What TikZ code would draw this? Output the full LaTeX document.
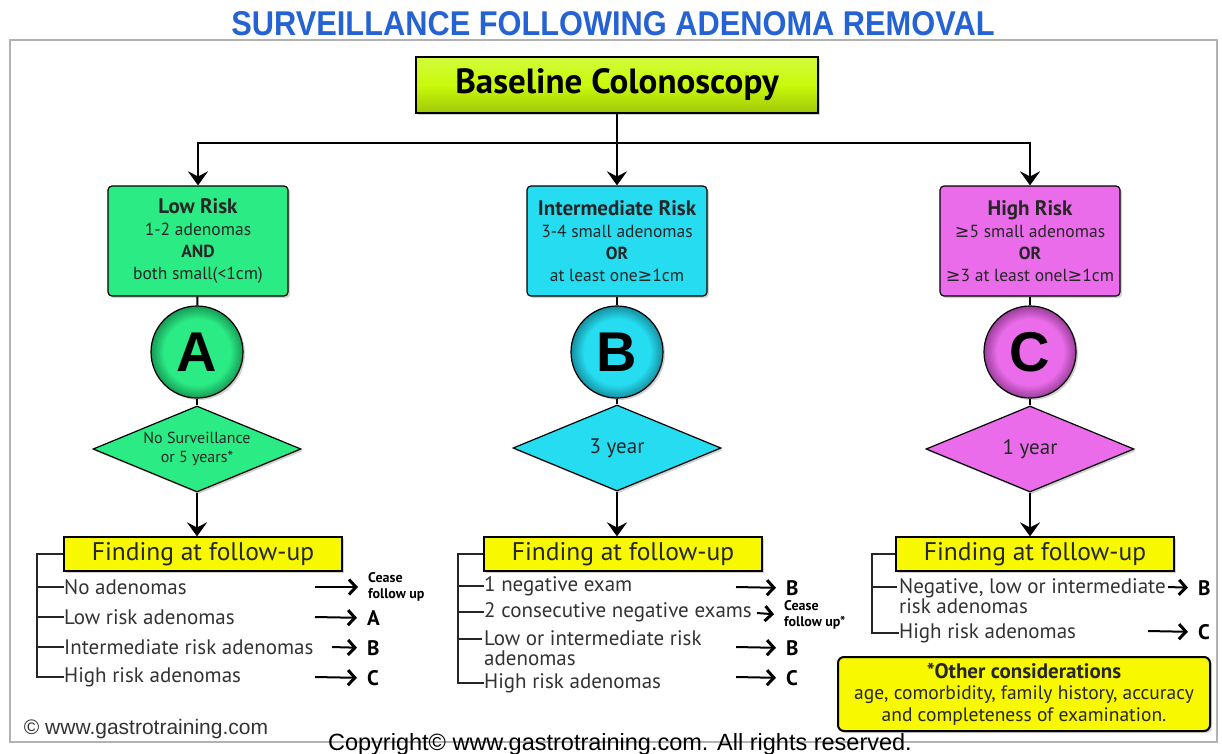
\documentclass[tikz,border=0pt]{standalone}
\usepackage{fontspec}
\setmainfont{PT Sans}
\newfontfamily\arial{Liberation Sans}
\newfontfamily\dejavu{DejaVu Sans}
\usetikzlibrary{shapes.geometric,arrows.meta,shadows}
\definecolor{lime}{HTML}{C8FA0A}
\definecolor{lgreen}{HTML}{2BEB85}
\definecolor{lcyan}{HTML}{25DCF0}
\definecolor{lmag}{HTML}{EA6CEA}
\definecolor{lyel}{HTML}{F8F800}
\definecolor{tblue}{HTML}{2563D4}
\definecolor{rowtxt}{HTML}{333333}
\definecolor{dgreen}{HTML}{179A55}
\definecolor{dcyan}{HTML}{168FA0}
\definecolor{dmag}{HTML}{9A3E9A}
\pgfdeclareradialshading{ballgreen}{\pgfpoint{0bp}{0bp}}{color(0bp)=(lgreen); color(18bp)=(lgreen); color(25bp)=(dgreen); color(50bp)=(dgreen)}
\pgfdeclareradialshading{ballcyan}{\pgfpoint{0bp}{0bp}}{color(0bp)=(lcyan); color(18bp)=(lcyan); color(25bp)=(dcyan); color(50bp)=(dcyan)}
\pgfdeclareradialshading{ballmag}{\pgfpoint{0bp}{0bp}}{color(0bp)=(lmag); color(18bp)=(lmag); color(25bp)=(dmag); color(50bp)=(dmag)}
\newcommand{\mygeq}{{\dejavu ≥}}
\tikzset{
  shade3d/.style={drop shadow={shadow xshift=2pt,shadow yshift=-2pt,opacity=0.35}},
  riskbox/.style={draw=black, line width=1.2pt, rounded corners=4pt, minimum width=180pt, minimum height=110pt, align=center, font=\fontsize{17.5}{22}\selectfont, text=black!85, inner sep=1pt, shade3d},
  ballnode/.style={circle, draw=black, line width=1.2pt, minimum size=92pt, inner sep=0pt, font=\arial\bfseries\fontsize{56}{56}\selectfont, shade3d},
  dia/.style={diamond, aspect=2.4, draw=black, line width=1.2pt, minimum width=208pt, minimum height=86pt, inner sep=0pt, align=center, text=black!85, shade3d},
  findbox/.style={draw=black, line width=1.2pt, fill=lyel, minimum width=278pt, minimum height=34pt, inner sep=0pt, font=\fontsize{25.5}{25.5}\selectfont, text=black!85, shade3d},
  rowt/.style={anchor=west, inner sep=0pt, font=\fontsize{21}{20}\selectfont, text=rowtxt, align=left},
  res/.style={anchor=west, inner sep=0pt, font=\bfseries\fontsize{21}{21}\selectfont},
  cease/.style={anchor=west, inner sep=0pt, align=left, font=\bfseries\fontsize{14}{15.5}\selectfont},
  conn/.style={line width=2pt, black},
  darr/.style={line width=2.5pt, black, -{Stealth[length=14pt,width=20pt,inset=5pt]}},
  rarr/.style={line width=2pt, black, shorten >=10pt, -{Straight Barb[length=7pt,width=15pt,line width=3pt]}},
  brk/.style={line width=2pt, black!85}
}
\begin{document}
\begin{tikzpicture}[x=1pt,y=-1pt]
\useasboundingbox (0,0) rectangle (1222,753);
\fill[white] (0,0) rectangle (1222,753);
% frame
\draw[black!30, line width=2pt, fill=white] (10,40) rectangle (1217,742);
% title
\node (title) at (613,24) {\color{tblue}\resizebox{763pt}{24pt}{\arial\bfseries SURVEILLANCE FOLLOWING ADENOMA REMOVAL}};
% baseline
\node[draw=black, line width=1.2pt, top color=lime!80!white, bottom color=lime!80!black, middle color=lime, minimum width=402pt, minimum height=56pt, font=\bfseries\fontsize{35}{35}\selectfont, shade3d] (base) at (617,85) {Baseline Colonoscopy};
% risk boxes
\node[riskbox, fill=lgreen] (low) at (198,241) {\textbf{\fontsize{21}{21}\selectfont Low Risk}\\1-2 adenomas\\\textbf{AND}\\both small(<1cm)};
\node[riskbox, fill=lcyan] (mid) at (617,241) {\textbf{\fontsize{21}{21}\selectfont Intermediate Risk}\\3-4 small adenomas\\\textbf{OR}\\at least one\mygeq1cm};
\node[riskbox, fill=lmag] (high) at (1030,241) {\textbf{\fontsize{21}{21}\selectfont High Risk}\\\mygeq5 small adenomas\\\textbf{OR}\\\mygeq3 at least onel\mygeq1cm};
% balls
\node[ballnode, shading=ballgreen] (ba) at (197,352) {A};
\node[ballnode, shading=ballcyan] (bb) at (617,352) {B};
\node[ballnode, shading=ballmag] (bc) at (1030,352) {C};
% diamonds
\node[dia, fill=lgreen, font=\fontsize{16}{19}\selectfont] (da) at (197,449) {No Surveillance\\or 5 years*};
\node[dia, fill=lcyan, font=\fontsize{21}{21}\selectfont] (db) at (617,448) {3 year};
\node[dia, fill=lmag, font=\fontsize{21}{21}\selectfont] (dc) at (1030,449) {1 year};
% finding boxes
\node[findbox] (fa) at (203,554) {Finding at follow-up};
\node[findbox] (fb) at (623,554) {Finding at follow-up};
\node[findbox] (fc) at (1035,554) {Finding at follow-up};
% top connectors
\coordinate (j) at (617,143);
\draw[conn] (base.south) -- (j);
\draw[darr] (j) -| (low.north);
\draw[darr] (j) -- (mid.north);
\draw[darr] (j) -| (high.north);
\draw[conn] (low) -- (ba); \draw[conn] (ba) -- (da);
\draw[conn] (mid) -- (bb); \draw[conn] (bb) -- (db);
\draw[conn] (high) -- (bc); \draw[conn] (bc) -- (dc);
\draw[darr] (da.south) -- (da.south |- fa.north);
\draw[darr] (db.south) -- (db.south |- fb.north);
\draw[darr] (dc.south) -- (dc.south |- fc.north);
% ---- A rows
\node[rowt] (a1) at (64,587) {No adenomas};
\node[rowt] (a2) at (64,617) {Low risk adenomas};
\node[rowt] (a3) at (64,647) {Intermediate risk adenomas};
\node[rowt] (a4) at (64,677) {High risk adenomas};
\node[cease] (ra1) at (368,587) {Cease\\follow up};
\node[res] (ra2) at (367,618) {A};
\node[res] (ra3) at (367,648) {B};
\node[res] (ra4) at (367,678) {C};
\coordinate (av) at (37,554);
\draw[brk] (fa.west) -- (av) -- (av |- a4.west) -- (a4.west);
\foreach \r in {a1,a2,a3} \draw[brk] (av |- \r.west) -- (\r.west);
\draw[rarr] (315,587) -- (ra1.west |- 0,587);
\draw[rarr] (315,617) -- (ra2.west);
\draw[rarr] (332,647) -- (ra3.west);
\draw[rarr] (315,677) -- (ra4.west);
% ---- B rows
\node[rowt] (b1) at (484,586) {1 negative exam};
\node[rowt] (b2) at (484,612) {2 consecutive negative exams};
\node[rowt] (b3) at (484,648) {Low or intermediate risk\\adenomas};
\node[rowt] (b4) at (484,683) {High risk adenomas};
\node[res] (rb1) at (786,588) {B};
\node[cease] (rb2) at (784,615) {Cease\\follow up*};
\node[res] (rb3) at (786,648) {B};
\node[res] (rb4) at (786,678) {C};
\coordinate (bv) at (458,554);
\draw[brk] (fb.west) -- (bv) -- (bv |- b4.west) -- (b4.west);
\draw[brk] (bv |- b1.west) -- (b1.west);
\draw[brk] (bv |- b2.west) -- (b2.west);
\draw[brk] (458,639) -- (482,639);
\draw[rarr] (736,587) -- (rb1.west);
\draw[rarr] (757,613) -- (rb2.west);
\draw[rarr] (736,647) -- (rb3.west);
\draw[rarr] (736,677) -- (rb4.west);
% ---- C rows
\node[rowt] (c1) at (899,596) {Negative, low or intermediate\\risk adenomas};
\node[rowt] (c2) at (899,633) {High risk adenomas};
\node[res] (rc1) at (1198,588) {B};
\node[res] (rc2) at (1198,632) {C};
\coordinate (cv) at (872,554);
\draw[brk] (fc.west) -- (cv) -- (cv |- c2.west) -- (c2.west);
\draw[brk] (872,587) -- (897,587);
\draw[rarr] (1168,587) -- (rc1.west);
\draw[rarr] (1148,631) -- (rc2.west);
% other considerations
\node[draw=black, line width=2pt, rounded corners=6pt, fill=lyel, minimum width=372pt, minimum height=74pt, align=center, font=\fontsize{19.5}{21.5}\selectfont, text=black!85, inner sep=1pt, shade3d] (oc) at (1024,694) {\textbf{\fontsize{21}{21}\selectfont *Other considerations}\\age, comorbidity, family history, accuracy\\and completeness of examination.};
% credits
\node[inner sep=0pt, font=\arial\fontsize{21}{21}\selectfont, text=black!80] (cr1) at (146,729) {© www.gastrotraining.com};
\node[inner sep=0pt, anchor=base, font=\arial\fontsize{23.5}{23.5}\selectfont] (cr2) at (620,750) {Copyright© www.gastrotraining.com. All rights reserved.};
\end{tikzpicture}
\end{document}
